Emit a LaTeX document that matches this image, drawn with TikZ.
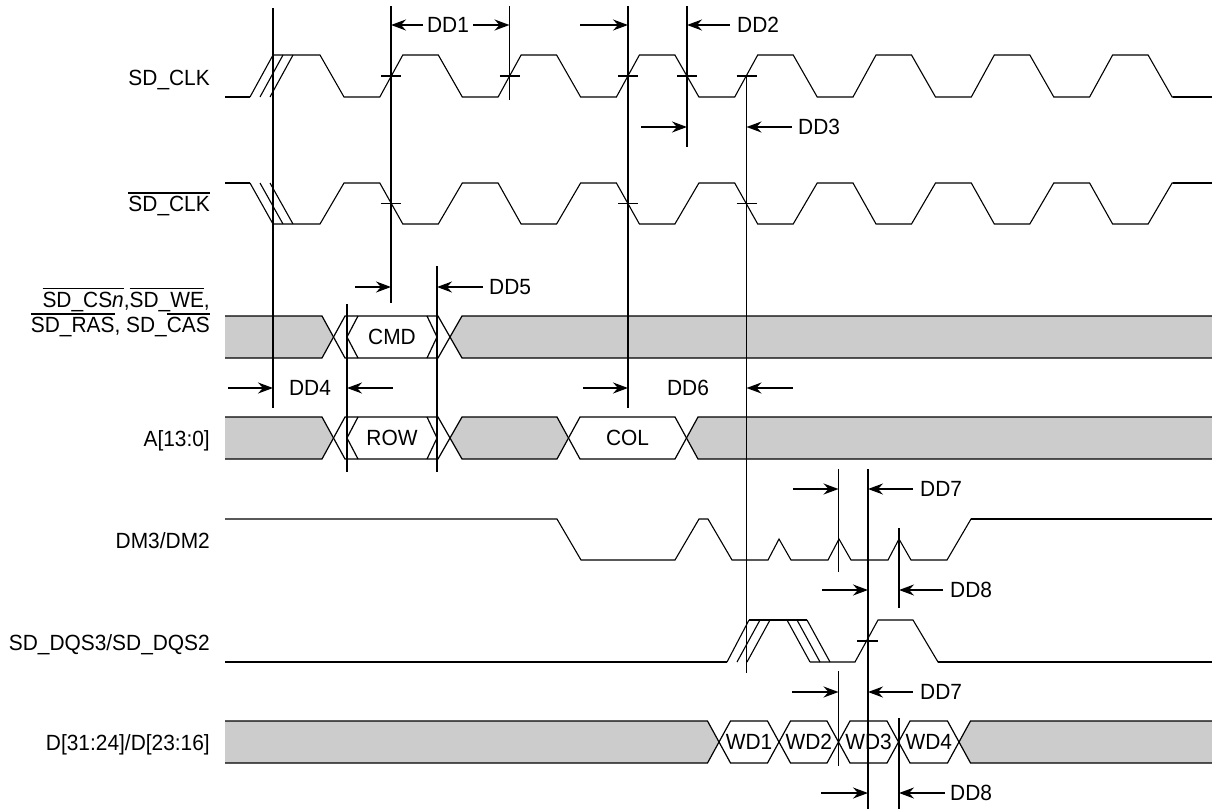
\documentclass[tikz,border=0pt]{standalone}
\usepackage{fontspec}
\setmainfont{Liberation Sans}[FakeStretch=0.95]
\usetikzlibrary{arrows.meta}
\definecolor{busgray}{HTML}{CCCCCC}
\newcommand{\ovl}[1]{\leavevmode\vbox{\hrule height 1.4pt\kern 2.4pt\hbox{#1}}}
\begin{document}
\begin{tikzpicture}[x=1pt,y=-1pt,
  wave/.style={line width=1.1pt, line join=miter},
  busline/.style={line width=1.2pt, line join=miter},
  vline/.style={line width=1.8pt},
  tickmark/.style={line width=1.8pt},
  arr/.style={line width=1.8pt, -{Stealth[length=15pt,width=11pt,inset=5pt]}},
  lbl/.style={font=\fontsize{22}{25.5}\selectfont, inner sep=0pt},
]
\useasboundingbox (0,0) rectangle (1212,809);

% ---------- signal labels ----------
\node[lbl, anchor=base east] (lclk) at (210,85) {SD\_CLK};
\node[lbl, anchor=base east] (lclkb) at (210,211.5) {\ovl{SD\_CLK}};
\node[lbl, anchor=base east, align=right] (lcmd) at (210,332.5) {\ovl{SD\_CS\textit{n}},\ovl{SD\_WE},\\ \ovl{SD\_RAS}, SD\_\ovl{CAS}};
\node[lbl, anchor=base east] (laddr) at (210,446) {A[13:0]};
\node[lbl, anchor=base east] (ldm) at (210,548) {DM3/DM2};
\node[lbl, anchor=base east] (ldqs) at (210,650) {SD\_DQS3/SD\_DQS2};
\node[lbl, anchor=base east] (ldata) at (210,750) {D[31:24]/D[23:16]};

% ---------- SD_CLK ----------
\draw[wave] (225,97) -- (250,97);
\draw[wave] (250,97) -- (273,55) (260,97) -- (283,55) (270,97) -- (293,55);
\draw[wave] (273,55) -- (320,55) -- (344,97)
  foreach \k in {1,...,7}{ -- ({273+118.3*\k-11.5},97) -- ({273+118.3*\k+11.5},55) -- ({273+118.3*\k+47},55) -- ({273+118.3*\k+71},97) } -- (1212,97);
\draw[line width=2pt] (1173,97) -- (1212,97);

% ---------- SD_CLK bar ----------
\draw[wave] (225,183) -- (250,183);
\draw[wave] (250,183) -- (273,224) (260,183) -- (283,224) (270,183) -- (293,224);
\draw[wave] (273,224) -- (320,224) -- (344,183)
  foreach \k in {1,...,7}{ -- ({273+118.3*\k-11.5},183) -- ({273+118.3*\k+11.5},224) -- ({273+118.3*\k+47},224) -- ({273+118.3*\k+71},183) } -- (1212,183);
\draw[line width=2pt] (1173,183) -- (1212,183);

% ticks
\foreach \x in {391,509.5,628,687,746.5} \draw[tickmark] (\x-10,76) -- (\x+10,76);
\foreach \x in {391,628,746.5} \draw[tickmark] (\x-10,203.5) -- (\x+10,203.5);

% ---------- command bus ----------
\fill[busgray] (225,316) -- (322,316) -- (333.5,337) -- (322,358) -- (225,358) -- cycle;
\fill[busgray] (450,337) -- (462,316) -- (1212,316) -- (1212,358) -- (462,358) -- cycle;
\draw[busline] (225,316) -- (322,316) -- (345,358) -- (438,358) -- (462,316) -- (1212,316);
\draw[busline] (225,358) -- (322,358) -- (345,316) -- (438,316) -- (462,358) -- (1212,358);
\draw[busline] (358,316) -- (347,337) -- (358,358) (427,316) -- (437,337) -- (427,358);
\node[lbl] (cmd) at (392,337) {CMD};

% ---------- address bus ----------
\fill[busgray] (225,417) -- (322,417) -- (333.5,438) -- (322,459) -- (225,459) -- cycle;
\fill[busgray] (450,438) -- (462,417) -- (557,417) -- (568.5,438) -- (557,459) -- (462,459) -- cycle;
\fill[busgray] (686.5,438) -- (698,417) -- (1212,417) -- (1212,459) -- (698,459) -- cycle;
\draw[busline] (225,417) -- (322,417) -- (345,459) -- (438,459) -- (462,417) -- (557,417) -- (580,459) -- (675,459) -- (698,417) -- (1212,417);
\draw[busline] (225,459) -- (322,459) -- (345,417) -- (438,417) -- (462,459) -- (557,459) -- (580,417) -- (675,417) -- (698,459) -- (1212,459);
\draw[busline] (358,417) -- (347,438) -- (358,459) (427,417) -- (437,438) -- (427,459);
\node[lbl] (row) at (392,438) {ROW};
\node[lbl] (col) at (627.5,438) {COL};

% ---------- DM ----------
\draw[wave] (225,519) -- (557,519) -- (581,560) -- (675,560) -- (699,519) -- (708,519) -- (732,560) -- (768,560) -- (779,539) -- (791,560) -- (828,560) -- (839,539) -- (851,560) -- (888,560) -- (899,539) -- (911,560) -- (947,560) -- (971,519) -- (1212,519);
\draw[line width=2pt] (971,519) -- (1212,519);

% ---------- DQS ----------
\draw[wave] (225,662) -- (727,662);
\draw[wave] (727,662) -- (749,620) (737,662) -- (760,620) (747,662) -- (770,620);
\draw[wave] (749,620) -- (807,620);
\draw[wave] (787,620) -- (810,662) (797,620) -- (820,662) (807,620) -- (830,662);
\draw[wave] (810,662) -- (855,662) -- (878,620) -- (913,620) -- (938,662) -- (1212,662);
\draw[line width=2pt] (938,662) -- (1212,662);
\draw[tickmark] (857,641) -- (878,641);

% ---------- data bus ----------
\fill[busgray] (225,721) -- (707.5,721) -- (719,742) -- (707.5,763) -- (225,763) -- cycle;
\fill[busgray] (959,742) -- (970.5,721) -- (1212,721) -- (1212,763) -- (970.5,763) -- cycle;
\draw[busline] (225,721) -- (707.5,721) -- (719,742) -- (707.5,763) -- (225,763);
\draw[busline] (1212,721) -- (970.5,721) -- (959,742) -- (970.5,763) -- (1212,763);
\foreach \a/\b in {719/779,779/838.5,838.5/898.5,898.5/959}
  \draw[busline] (\a,742) -- (\a+11.5,721) -- (\b-11.5,721) -- (\b,742) -- (\b-11.5,763) -- (\a+11.5,763) -- cycle;
\node[lbl] (wd1) at (749,742) {WD1};
\node[lbl] (wd2) at (808.75,742) {WD2};
\node[lbl] (wd3) at (868.5,742) {WD3};
\node[lbl] (wd4) at (928.75,742) {WD4};

% ---------- reference lines ----------
\draw[vline] (273,8) -- (273,408);
\draw[vline] (391,6) -- (391,303);
\draw[vline] (509.5,6) -- (509.5,100);
\draw[vline] (628,6) -- (628,408);
\draw[vline] (687,6) -- (687,147);
\draw[vline] (746.5,76) -- (746.5,673);
\draw[vline] (347,304) -- (347,472);
\draw[vline] (437,266) -- (437,472);
\draw[vline] (838.5,469) -- (838.5,572);
\draw[vline] (868,469) -- (868,809);
\draw[vline] (899,528) -- (899,608);
\draw[vline] (838.5,671) -- (838.5,766);
\draw[vline] (899,718) -- (899,809);

% ---------- timing arrows ----------
\draw[arr] (423,25) -- (391,25);
\draw[arr] (473,25) -- (509.5,25);
\node[lbl] (dd1) at (448,25) {DD1};

\draw[arr] (580,25) -- (628,25);
\draw[arr] (730,25) -- (687,25);
\node[lbl, anchor=west] (dd2) at (737,25) {DD2};

\draw[arr] (641,127) -- (687,127);
\draw[arr] (792,127) -- (746.5,127);
\node[lbl, anchor=west] (dd3) at (798,127) {DD3};

\draw[arr] (355,287) -- (391,287);
\draw[arr] (483,287) -- (437,287);
\node[lbl, anchor=west] (dd5) at (489,287) {DD5};

\draw[arr] (228,388) -- (273,388);
\draw[arr] (393,388) -- (347,388);
\node[lbl] (dd4) at (310,388) {DD4};

\draw[arr] (583,388) -- (628,388);
\draw[arr] (793,388) -- (746.5,388);
\node[lbl] (dd6) at (688,388) {DD6};

\draw[arr] (793,489) -- (838.5,489);
\draw[arr] (913,489) -- (868,489);
\node[lbl, anchor=west] (dd7a) at (920,489) {DD7};

\draw[arr] (822,590) -- (868,590);
\draw[arr] (943,590) -- (899,590);
\node[lbl, anchor=west] (dd8a) at (950,590) {DD8};

\draw[arr] (792,692) -- (838.5,692);
\draw[arr] (913,692) -- (868,692);
\node[lbl, anchor=west] (dd7b) at (920,692) {DD7};

\draw[arr] (821,793) -- (868,793);
\draw[arr] (945,793) -- (899,793);
\node[lbl, anchor=west] (dd8b) at (950,793) {DD8};
\end{tikzpicture}
\end{document}
